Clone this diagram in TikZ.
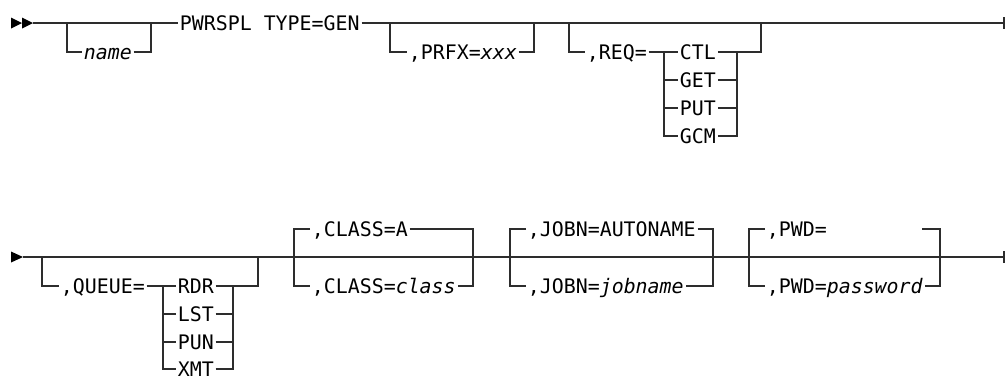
\documentclass[tikz,border=0pt]{standalone}
\usepackage{fontspec}
\usepackage{tikz}
\usetikzlibrary{positioning}
\newfontfamily\synfont[FakeStretch=0.995]{DejaVu Sans Mono}
\newcommand{\railfont}{\synfont\fontsize{10pt}{11pt}\selectfont}
\definecolor{RailGray}{RGB}{45, 45, 45}

\begin{document}
\begin{tikzpicture}[x=0.5pt, y=-0.5pt, line width=0.7pt,
    kw/.style={anchor=west, inner xsep=0.6pt, inner ysep=0pt, font=\railfont,
               text height=7.2pt, text depth=0pt, text=black},
    rail/.style={draw=RailGray}]
      \useasboundingbox (0,0) rectangle (1005,377);

      % Row 1: start marker and main line
      \fill (11,17.5) -- (22,23) -- (11,28.5) -- cycle;
      \fill (22,17.5) -- (33,23) -- (22,28.5) -- cycle;
      \coordinate (start1) at (33,23);
      \coordinate (end1) at (1004,23);
      \node[kw] (pwrspl) at (178,23) {PWRSPL TYPE=GEN};
      \draw[rail] (start1) -- (pwrspl.west);
      \draw[rail] (pwrspl.east) -- (end1);
      \draw[rail] (1004,17) -- (1004,29);

      % Optional name
      \node[kw] (name) at (82,52) {\textit{name}};
      \draw[rail] (67,23) |- (name.west);
      \draw[rail] (name.east) -| (151,23);

      % Optional PRFX
      \node[kw] (prfx) at (407,52) {,PRFX=\textit{xxx}};
      \draw[rail] (390,23) |- (prfx.west);
      \draw[rail] (prfx.east) -| (534,23);

      % Optional REQ with its choices
      \node[kw] (req) at (585,52) {,REQ=};
      \draw[rail] (569,23) |- (req.west);
      \foreach \w/\y in {CTL/52, GET/80, PUT/108, GCM/136} {
        \node[kw] (req-\w) at (678,\y) {\w};
      }
      \draw[rail] (req.east) -- (req-CTL.west);
      \draw[rail] (664,52) |- (req-GCM.west);
      \draw[rail] (req-GCM.east) -| (737,52);
      \foreach \w in {GET, PUT} {
        \draw[rail] (664,0 |- req-\w.west) -- (req-\w.west);
        \draw[rail] (req-\w.east) -- (737,0 |- req-\w.east);
      }
      \draw[rail] (req-CTL.east) -| (761,23);

      % Row 2: start marker and main line
      \fill (11,251.5) -- (23,257) -- (11,262.5) -- cycle;
      \coordinate (start2) at (23,257);
      \coordinate (end2) at (1004,257);
      \draw[rail] (start2) -- (end2);
      \draw[rail] (1004,251) -- (1004,263);

      % Optional QUEUE with its choices
      \node[kw] (queue) at (59,286) {,QUEUE=};
      \draw[rail] (42,257) |- (queue.west);
      \foreach \w/\y in {RDR/286, LST/314, PUN/342, XMT/369} {
        \node[kw] (q-\w) at (176,\y) {\w};
      }
      \draw[rail] (queue.east) -- (q-RDR.west);
      \draw[rail] (163,286) |- (q-XMT.west);
      \draw[rail] (q-XMT.east) -| (233,286);
      \foreach \w in {LST, PUN} {
        \draw[rail] (163,0 |- q-\w.west) -- (q-\w.west);
        \draw[rail] (q-\w.east) -- (233,0 |- q-\w.east);
      }
      \draw[rail] (q-RDR.east) -| (258,257);

      % CLASS, default above the line
      \node[kw] (class-a) at (310,229) {,CLASS=A};
      \node[kw] (class-x) at (310,286) {,CLASS=\textit{class}};
      \draw[rail] (class-a.west) -| (294,286) -- (class-x.west);
      \draw[rail] (class-a.east) -| (473,286) -- (class-x.east);

      % JOBN, default above the line
      \node[kw] (jobn-a) at (526,229) {,JOBN=AUTONAME};
      \node[kw] (jobn-x) at (526,286) {,JOBN=\textit{jobname}};
      \draw[rail] (jobn-a.west) -| (510,286) -- (jobn-x.west);
      \draw[rail] (jobn-a.east) -| (713,286) -- (jobn-x.east);

      % PWD, default above the line (left open)
      \node[kw] (pwd-a) at (765,229) {,PWD=};
      \node[kw] (pwd-x) at (765,286) {,PWD=\textit{password}};
      \coordinate (pwd-stub) at (922,229);
      \draw[rail] (pwd-a.west) -| (749,286) -- (pwd-x.west);
      \draw[rail] (pwd-stub) -| (940,286) -- (pwd-x.east);
    \end{tikzpicture}
\end{document}
